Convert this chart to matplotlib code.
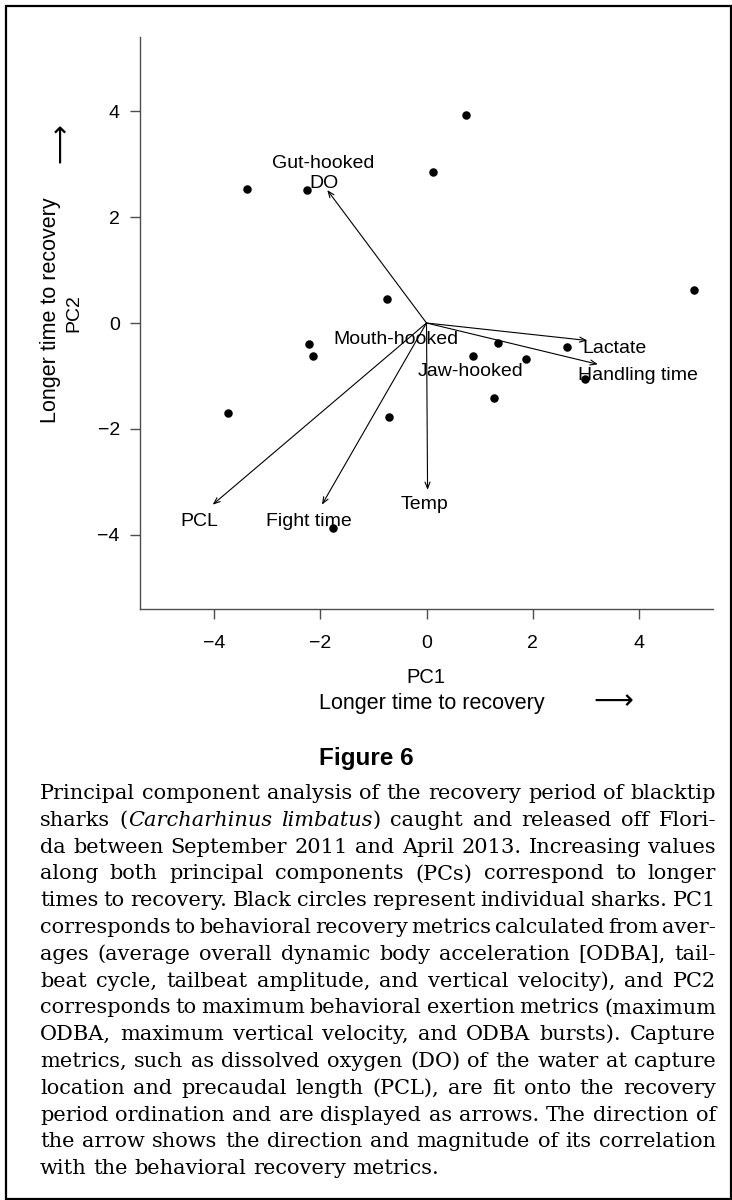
# -*- coding: UTF-8 -*-

"""PCA biplot of blacktip shark recovery period (Figure 6) with caption
"""

import matplotlib
matplotlib.use('Agg')
import matplotlib.pyplot as plt
from matplotlib.patches import Rectangle

#+++++++++++++++++++++++++++++++++++++++++++++++++++++++++++++++++++++++++++++#

W, H = 732, 1200

# individual sharks (site scores)
PC1 = [0.75, 0.12, 5.04, -0.75, -3.39, -2.26, -2.21, -2.14, -3.74, -1.76,
       -0.71, 1.35, 0.87, 1.87, 2.64, 2.99, 1.27]
PC2 = [3.92, 2.86, 0.62, 0.46, 2.53, 2.52, -0.40, -0.62, -1.69, -3.87,
       -1.78, -0.37, -0.62, -0.68, -0.45, -1.06, -1.42]

# fitted capture metrics (arrows)
VEC_NAMES = ['DO', 'PCL', 'Fight time', 'Temp', 'Lactate', 'Handling time']
VEC_X = [-1.87, -4.03, -1.97, 0.02, 3.03, 3.23]
VEC_Y = [2.51, -3.43, -3.43, -3.15, -0.33, -0.78]
VEC_LAB_X = [-1.94, -4.29, -2.22, -0.03, 3.55, 3.98]
VEC_LAB_Y = [2.64, -3.75, -3.75, -3.43, -0.49, -1.00]

# hook location centroids (factor levels)
FAC_NAMES = ['Gut-hooked', 'Mouth-hooked', 'Jaw-hooked']
FAC_X = [-1.95, -0.58, 0.83]
FAC_Y = [3.01, -0.32, -0.92]

TICKS = [-4, -2, 0, 2, 4]

CAPTION = [
  'Principal component analysis of the recovery period of blacktip',
  'sharks (*Carcharhinus* *limbatus*) caught and released off Flori-',
  'da between September 2011 and April 2013. Increasing values',
  'along both principal components (PCs) correspond to longer',
  'times to recovery. Black circles represent individual sharks. PC1',
  'corresponds to behavioral recovery metrics calculated from aver-',
  'ages (average overall dynamic body acceleration [ODBA], tail-',
  'beat cycle, tailbeat amplitude, and vertical velocity), and PC2',
  'corresponds to maximum behavioral exertion metrics (maximum',
  'ODBA, maximum vertical velocity, and ODBA bursts). Capture',
  'metrics, such as dissolved oxygen (DO) of the water at capture',
  'location and precaudal length (PCL), are fit onto the recovery',
  'period ordination and are displayed as arrows. The direction of',
  'the arrow shows the direction and magnitude of its correlation',
  'with the behavioral recovery metrics.',
]

SANS = 'Liberation Sans'
SERIF = 'DejaVu Serif'
FS = 14
TICK_FS = 14
CAP_FS = 15
CAP_L, CAP_R = 40, 716
CAP_Y0, CAP_DY = 799, 26.8

#+++++++++++++++++++++++++++++++++++++++++++++++++++++++++++++++++++++++++++++#

if __name__ == '__main__':

  plt.rcParams['font.family'] = [SANS, 'DejaVu Sans']

  fig = plt.figure(figsize = (W / 100, H / 100), dpi = 100)

  # outer frame
  fig.patches.append(Rectangle((6 / W, 1 / H), (W - 7) / W, (H - 7) / H,
    transform = fig.transFigure, fill = False, lw = 1.6, ec = 'k'))

  # 1. biplot
  #---------------------------------------------------------------------------#

  ax = fig.add_axes([140 / W, 1 - 609 / H, 573 / W, 572 / H])
  ax.set_xlim(-5.4, 5.4)
  ax.set_ylim(-5.4, 5.4)

  for side in ['top', 'right']:
    ax.spines[side].set_visible(False)
  for side in ['left', 'bottom']:
    ax.spines[side].set_color('0.3')
    ax.spines[side].set_linewidth(1.0)

  tick_labels = ['\u2212{}'.format(-t) if t < 0 else str(t) for t in TICKS]
  ax.set_xticks(TICKS)
  ax.set_yticks(TICKS)
  ax.set_xticklabels(tick_labels)
  ax.set_yticklabels(tick_labels)
  ax.tick_params(axis = 'both', length = 7.5, width = 1.0, color = '0.3',
    labelsize = TICK_FS)
  ax.tick_params(axis = 'x', pad = 11)
  ax.tick_params(axis = 'y', pad = 7)

  ax.scatter(PC1, PC2, s = 26, c = 'k', zorder = 3)

  for x, y in zip(VEC_X, VEC_Y):
    ax.annotate('', xy = (x, y), xytext = (0, 0),
      arrowprops = dict(arrowstyle = '->,head_length=0.45,head_width=0.18',
                        lw = 0.8, color = 'k', shrinkA = 0, shrinkB = 0,
                        mutation_scale = 10))

  for name, x, y in zip(VEC_NAMES, VEC_LAB_X, VEC_LAB_Y):
    ax.text(x, y, name, ha = 'center', va = 'center', fontsize = FS)

  for name, x, y in zip(FAC_NAMES, FAC_X, FAC_Y):
    ax.text(x, y, name, ha = 'center', va = 'center', fontsize = FS)

  # axis titles with direction arrows
  fig.text(426 / W, 1 - 678 / H, 'PC1', ha = 'center', va = 'center',
    fontsize = 14.5)
  fig.text(432 / W, 1 - 703 / H, 'Longer time to recovery', ha = 'center',
    va = 'center', fontsize = 15.5)
  fig.text(613 / W, 1 - 701 / H, '\u27f6', ha = 'center', va = 'center',
    fontsize = 20, family = 'DejaVu Sans')

  fig.text(51 / W, 1 - 310 / H, 'Longer time to recovery', ha = 'center',
    va = 'center', rotation = 90, fontsize = 15.5)
  fig.text(74 / W, 1 - 313 / H, 'PC2', ha = 'center', va = 'center',
    rotation = 90, fontsize = 14)
  fig.text(60 / W, 1 - 143 / H, '\u27f6', ha = 'center', va = 'center',
    rotation = 90, fontsize = 20, family = 'DejaVu Sans')

  # 2. figure number and caption
  #---------------------------------------------------------------------------#

  fig.text(366 / W, 1 - 758 / H, 'Figure 6', ha = 'center', va = 'center',
    fontsize = 17.5, weight = 'bold')

  fig.canvas.draw()
  renderer = fig.canvas.get_renderer()

  def width_of(t):
    return t.get_window_extent(renderer).width

  probe_a = fig.text(0, 0, 'x x', fontsize = CAP_FS, family = SERIF)
  probe_b = fig.text(0, 0, 'xx', fontsize = CAP_FS, family = SERIF)
  space = width_of(probe_a) - width_of(probe_b)
  probe_a.remove()
  probe_b.remove()

  for i, line in enumerate(CAPTION):
    y = 1 - (CAP_Y0 + i * CAP_DY) / H
    words = []
    for w in line.split(' '):
      pieces = []
      for k, seg in enumerate(w.split('*')):
        if seg:
          t = fig.text(0, y, seg, fontsize = CAP_FS, family = SERIF,
            style = 'italic' if k % 2 else 'normal', va = 'baseline')
          pieces.append((t, width_of(t)))
      words.append(pieces)

    total = sum(wd for ps in words for _, wd in ps)
    last = i == len(CAPTION) - 1
    gap = space if last else (CAP_R - CAP_L - total) / (len(words) - 1)

    x = CAP_L
    for ps in words:
      for t, wd in ps:
        t.set_x(x / W)
        x += wd
      x += gap

  plt.savefig('out.png', dpi = 100)
  plt.close()
